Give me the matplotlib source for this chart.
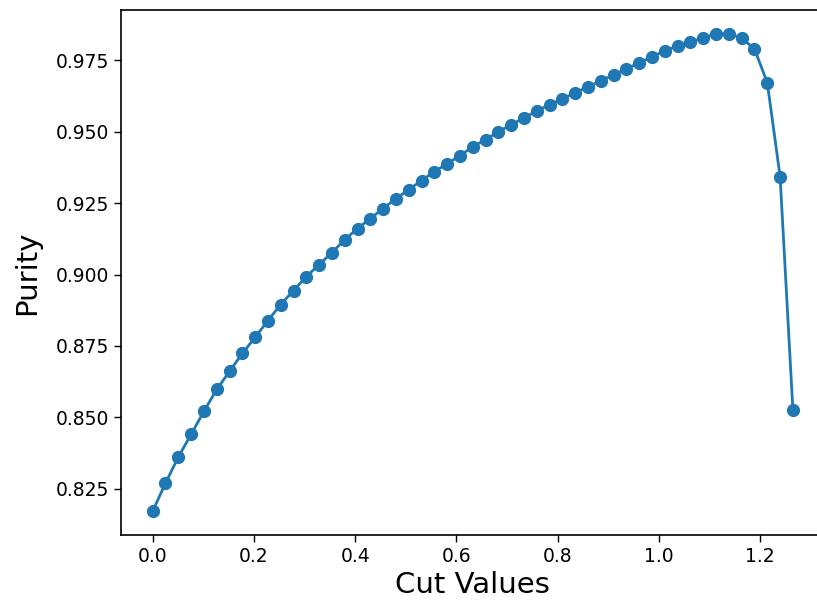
import numpy as np
import matplotlib
matplotlib.use("Agg")
import matplotlib.pyplot as plt

# cut values that were scanned
cut_values = [0.0000, 0.0253, 0.0506, 0.0759, 0.1012, 0.1265, 0.1518, 0.1771, 0.2024, 0.2277,
              0.2530, 0.2783, 0.3036, 0.3289, 0.3542, 0.3795, 0.4048, 0.4301, 0.4554, 0.4807,
              0.5060, 0.5313, 0.5566, 0.5819, 0.6072, 0.6325, 0.6578, 0.6831, 0.7084, 0.7337,
              0.7590, 0.7843, 0.8096, 0.8349, 0.8602, 0.8855, 0.9108, 0.9361, 0.9614, 0.9867,
              1.0120, 1.0373, 1.0626, 1.0879, 1.1132, 1.1385, 1.1638, 1.1891, 1.2144, 1.2397,
              1.2650]

# purity at each cut
purity = [0.8172, 0.8270, 0.8361, 0.8441, 0.8521, 0.8598, 0.8661, 0.8724, 0.8780, 0.8839,
          0.8895, 0.8944, 0.8993, 0.9035, 0.9077, 0.9122, 0.9161, 0.9196, 0.9231, 0.9266,
          0.9297, 0.9329, 0.9360, 0.9388, 0.9416, 0.9447, 0.9472, 0.9500, 0.9524, 0.9548,
          0.9573, 0.9594, 0.9615, 0.9636, 0.9657, 0.9678, 0.9699, 0.9720, 0.9741, 0.9762,
          0.9783, 0.9800, 0.9814, 0.9828, 0.9842, 0.9842, 0.9828, 0.9789, 0.9671, 0.9342,
          0.8525]

fig = plt.figure(figsize=(8.17, 6.01), dpi=100)
# axes run a little past the right edge of the canvas
ax = fig.add_axes([0.1477, 0.1098, 0.862, 0.8735])

ax.plot(cut_values, purity, marker='o', markersize=8.5, linewidth=2, color='#1f77b4')

ax.set_xlabel('Cut Values', fontsize=21)
ax.set_ylabel('Purity', fontsize=21, labelpad=10)
ax.tick_params(labelsize=13.5, length=5, width=1)
ax.set_yticks([0.825, 0.850, 0.875, 0.900, 0.925, 0.950, 0.975])
ax.set_yticklabels(['0.825', '0.850', '0.875', '0.900', '0.925', '0.950', '0.975'])
for s in ax.spines.values():
    s.set_linewidth(1.2)

fig.savefig('out.png', dpi=100)
